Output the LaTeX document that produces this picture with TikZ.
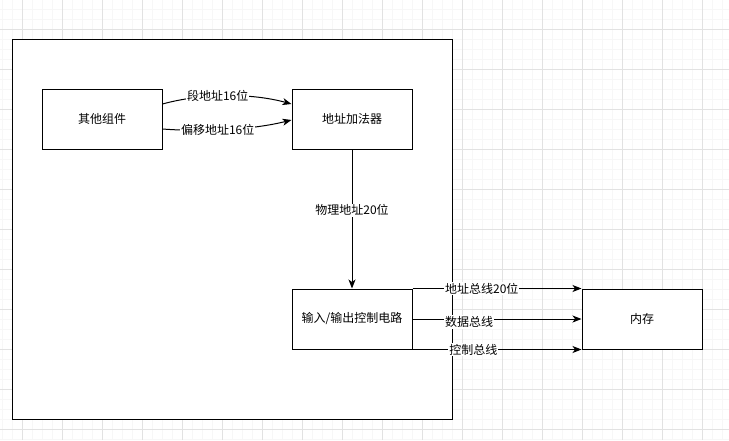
\documentclass[tikz,border=0pt]{standalone}
\usepackage{fontspec}
\setmainfont{Noto Sans CJK SC}
\usetikzlibrary{arrows.meta}
\definecolor{ink}{HTML}{000000}
\definecolor{gridmajor}{HTML}{E2E2E2}
\definecolor{gridminor}{HTML}{F7F7F7}
\tikzset{
  box/.style={
    rectangle, draw=ink, fill=white, line width=1pt,
    minimum width=120pt, minimum height=60pt, inner sep=0pt,
    align=center, font=\fontsize{12}{14}\selectfont
  },
  frame/.style={box, minimum width=440pt, minimum height=380pt},
  tag/.style={fill=white, inner sep=1pt, font=\fontsize{12}{14}\selectfont},
  arrow/.style={-{Stealth[length=9pt,width=7pt,inset=2.5pt]}, line width=1pt, draw=ink},
  minorgrid/.style={draw=gridminor, line width=1pt},
  majorgrid/.style={draw=gridmajor, line width=1pt},
}

\begin{document}
\begin{tikzpicture}[x=1pt, y=-1pt]
  \useasboundingbox (0,0) rectangle (729,440);

  % background grid
  \foreach \x in {2,12,...,722} \draw[minorgrid] (\x,0) -- (\x,440);
  \foreach \y in {9,19,...,439} \draw[minorgrid] (0,\y) -- (729,\y);
  \foreach \x in {22,62,...,702} \draw[majorgrid] (\x,0) -- (\x,440);
  \foreach \y in {29,69,...,429} \draw[majorgrid] (0,\y) -- (729,\y);

  \node[frame] (cpu) at (232,229) {};

  \node[box] (other) at (102,119) {其他组件};
  \node[box] (adder) at (352,119) {地址加法器};
  \node[box] (io) at (352,319) {输入/输出控制电路};
  \node[box] (mem) at (642,319) {内存};

  \draw[arrow] ([yshift=15pt]other.east) .. controls +(40pt,11pt) and +(-40pt,11pt) .. ([yshift=15pt]adder.west)
    node[tag, pos=0.43] {段地址16位};
  \draw[arrow] ([yshift=-10pt]other.east) .. controls +(40pt,-3pt) and +(-40pt,-10pt) .. ([yshift=-1pt]adder.west)
    node[tag, pos=0.43] {偏移地址16位};

  \draw[arrow] (adder) -- (io) node[tag, pos=0.436] {物理地址20位};

  \draw[arrow] (io.north east) -- (mem.north west) node[tag, pos=0.41] {地址总线20位};
  \draw[arrow] (io.east) -- (mem.west) node[tag, pos=0.335, yshift=-3pt] {数据总线};
  \draw[arrow] (io.south east) -- (mem.south west) node[tag, pos=0.36] {控制总线};
\end{tikzpicture}
\end{document}
